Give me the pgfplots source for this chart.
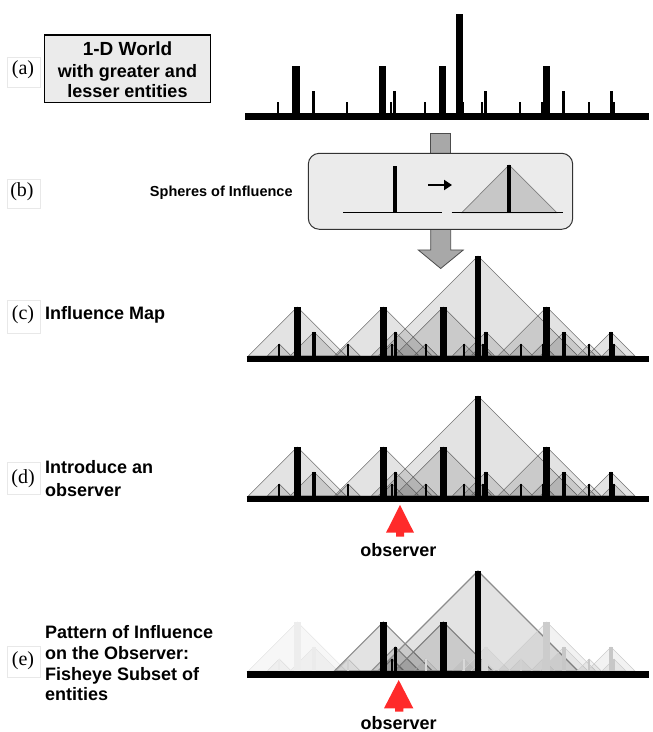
\documentclass[border=0pt]{standalone}
\usepackage{pgfplots}
\pgfplotsset{compat=1.18}
\usepackage{pgfplotstable}
\usepackage{fontspec}
\setmainfont{Liberation Sans}
\newfontfamily\seriffont{Liberation Serif}
\usetikzlibrary{arrows.meta}
\definecolor{obsred}{HTML}{FF2A2A}
\definecolor{boxgray}{HTML}{EBEBEB}
\definecolor{arrgray}{HTML}{A8A8A8}

% panel (a): position, height, bar width
\pgfplotstableread{
px ph pw
278.3 11 2
296 47 7.3
313 22 3
347 11 2
382.3 47 7.3
390.7 11 2
394.7 22 3
425 11 2
442.7 47 7.3
459.7 99 7
463 11 2
481.7 11 2
485.7 22 3
520 11 2
541.7 11 2
546.7 47 7.3
563.3 22 3
589.3 11 2
611 22 3
614 11 2
}\tabA

% panels (c) and (d)
\pgfplotstableread{
px ph pw
279.3 12 2
297.3 49 7
314 24 3.3
348.3 12 2
383.3 49 7
392 12 2
395.3 24 3.3
425.7 12 2
443.3 49 7
464.3 12 2
478 100 6.5
482.7 12 2
486 24 3.3
521 12 2
542.7 12 2
546.7 49 7
564 24 3.3
589.3 12 2
611 24 3.3
614 12 2
}\tabC

% panel (e): with bar shade, fill opacity, line shade, line width
\pgfplotstableread{
px ph pw bc fo lc lw
279.3 12 2 8 0.03 10 0.6
297.3 49 7 7 0.03 10 0.6
314 24 3.3 8 0.03 10 0.6
348.3 12 2 18 0.04 20 0.6
383.3 49 7 100 0.11 45 1.1
392 12 2 100 0.11 45 1.1
395.3 24 3.3 100 0.11 45 1.1
425.7 12 2 15 0.04 15 0.6
443.3 49 7 100 0.11 45 1.1
464.3 12 2 15 0.04 15 0.6
478 100 6.5 100 0.11 45 1.1
482.7 12 2 15 0.04 15 0.6
486 24 3.3 15 0.04 18 0.6
521 12 2 18 0.04 18 0.6
542.7 12 2 20 0.04 18 0.6
546.7 49 7 20 0.05 20 0.6
564 24 3.3 22 0.05 20 0.6
589.3 12 2 22 0.05 20 0.6
611 24 3.3 22 0.05 20 0.6
614 12 2 22 0.05 20 0.6
}\tabE

\newcommand\drawbars[2]{%
  \pgfplotstablegetrowsof{#1}%
  \pgfmathtruncatemacro\nrows{\pgfplotsretval-1}%
  \pgfplotsforeachungrouped \i in {0,...,\nrows}{%
    \pgfplotstablegetelem{\i}{px}\of#1\let\X\pgfplotsretval
    \pgfplotstablegetelem{\i}{ph}\of#1\let\H\pgfplotsretval
    \pgfplotstablegetelem{\i}{pw}\of#1\let\W\pgfplotsretval
    \pgfmathsetmacro\YT{#2+\H}%
    \edef\tmp{\noexpand\addplot[black, line width=\W pt] coordinates {(\X,#2) (\X,\YT)};}\tmp
  }}

\newcommand\drawspheres[2]{%
  \pgfplotstablegetrowsof{#1}%
  \pgfmathtruncatemacro\nrows{\pgfplotsretval-1}%
  \pgfplotsforeachungrouped \i in {0,...,\nrows}{%
    \pgfplotstablegetelem{\i}{px}\of#1\let\X\pgfplotsretval
    \pgfplotstablegetelem{\i}{ph}\of#1\let\H\pgfplotsretval
    \pgfmathsetmacro\XL{\X-\H}\pgfmathsetmacro\XR{\X+\H}\pgfmathsetmacro\YT{#2+\H}%
    \edef\tmp{\noexpand\addplot[fill=black, fill opacity=0.11, draw=black!55, line width=0.6pt] coordinates {(\XL,#2) (\X,\YT) (\XR,#2)} -- cycle;}\tmp
  }}

\newcommand\drawfaded[2]{%
  \pgfplotstablegetrowsof{#1}%
  \pgfmathtruncatemacro\nrows{\pgfplotsretval-1}%
  \pgfplotsforeachungrouped \i in {0,...,\nrows}{%
    \pgfplotstablegetelem{\i}{px}\of#1\let\X\pgfplotsretval
    \pgfplotstablegetelem{\i}{ph}\of#1\let\H\pgfplotsretval
    \pgfplotstablegetelem{\i}{fo}\of#1\let\FO\pgfplotsretval
    \pgfplotstablegetelem{\i}{lc}\of#1\let\LC\pgfplotsretval
    \pgfplotstablegetelem{\i}{lw}\of#1\let\LW\pgfplotsretval
    \pgfmathsetmacro\XL{\X-\H}\pgfmathsetmacro\XR{\X+\H}\pgfmathsetmacro\YT{#2+\H}%
    \edef\tmp{\noexpand\addplot[fill=black, fill opacity=\FO, draw=black!\LC, line width=\LW pt] coordinates {(\XL,#2) (\X,\YT) (\XR,#2)} -- cycle;}\tmp
  }%
  \pgfplotsforeachungrouped \i in {0,...,\nrows}{%
    \pgfplotstablegetelem{\i}{px}\of#1\let\X\pgfplotsretval
    \pgfplotstablegetelem{\i}{ph}\of#1\let\H\pgfplotsretval
    \pgfplotstablegetelem{\i}{pw}\of#1\let\W\pgfplotsretval
    \pgfplotstablegetelem{\i}{bc}\of#1\let\BC\pgfplotsretval
    \pgfmathsetmacro\YT{#2+\H}%
    \edef\tmp{\noexpand\addplot[black!\BC, line width=\W pt] coordinates {(\X,#2) (\X,\YT)};}\tmp
  }}

\tikzset{lab/.style={font=\bfseries\fontsize{18}{21}\selectfont, anchor=base west, inner sep=0pt},
  plab/.style={font=\seriffont\fontsize{20}{22}\selectfont, anchor=base, inner sep=0pt},
  faint/.style={draw=black!9, line width=0.6pt}}

\begin{document}
\begin{tikzpicture}
\begin{axis}[x=1pt, y=1pt, xmin=0, xmax=649, ymin=0, ymax=732,
  scale only axis, hide axis, clip=false]
\addplot[draw=none] coordinates {(0,0) (649,732)};

% ---------- panel (a)
\draw[faint] (axis cs:7,675) rectangle (axis cs:40,645);
\node[plab] at (axis cs:23,657) {(a)};
\draw[fill=boxgray, draw=black, line width=1.3pt] (axis cs:44.3,697) rectangle (axis cs:210.7,629.7);
\node[font=\bfseries\fontsize{19}{21}\selectfont, anchor=base, inner sep=0pt] at (axis cs:127.5,676.3) {1-D World};
\node[font=\bfseries\fontsize{18}{21}\selectfont, anchor=base, inner sep=0pt] at (axis cs:127.5,654.7) {with greater and};
\node[font=\bfseries\fontsize{18}{21}\selectfont, anchor=base, inner sep=0pt] at (axis cs:127.5,634.7) {lesser entities};
\drawbars{\tabA}{618.7}
\addplot[black, line width=7pt] coordinates {(245,615.2) (649,615.2)};

% ---------- panel (b)
\draw[faint] (axis cs:7,553) rectangle (axis cs:40,524);
\node[plab] at (axis cs:22,535.3) {(b)};
\node[font=\bfseries\fontsize{14.5}{17}\selectfont, anchor=base, inner sep=0pt] at (axis cs:221.3,535.3) {Spheres of Influence};
\addplot[fill=arrgray, draw=black!70, line width=0.8pt] coordinates {(430.7,575) (430.7,598.7) (450.7,598.7) (450.7,575)};
\addplot[fill=arrgray, draw=black!70, line width=0.8pt] coordinates {(430.7,506) (430.7,482) (418.3,482) (440.7,463.5) (463.3,482) (450.7,482) (450.7,506)};
\draw[fill=boxgray, draw=black!80, line width=1pt, rounded corners=11pt] (axis cs:308.3,578.7) rectangle (axis cs:572.7,502.7);
\addplot[black, line width=1.3pt] coordinates {(343.3,519.3) (441.7,519.3)};
\addplot[black, line width=4pt] coordinates {(395,519.3) (395,566.3)};
\draw[-{Triangle[length=8pt,width=10pt]}, line width=2.4pt] (axis cs:428,547) -- (axis cs:452,547);
\addplot[fill=black!22, draw=black!50, line width=0.7pt] coordinates {(461.7,519.3) (509,567) (556.7,519.3)} -- cycle;
\addplot[black, line width=1.3pt] coordinates {(451.7,519.3) (563.3,519.3)};
\addplot[black, line width=4pt] coordinates {(509,519.3) (509,567)};

% ---------- panel (c)
\draw[faint] (axis cs:7,432) rectangle (axis cs:40,399);
\node[plab] at (axis cs:23,412) {(c)};
\node[lab] at (axis cs:45,412.7) {Influence Map};
\drawspheres{\tabC}{376}
\drawbars{\tabC}{376}
\addplot[black, line width=6pt] coordinates {(246.7,373) (649,373)};

% ---------- panel (d)
\draw[faint] (axis cs:7,270) rectangle (axis cs:40,238);
\node[plab] at (axis cs:23,248) {(d)};
\node[lab] at (axis cs:45,258.5) {Introduce an};
\node[lab] at (axis cs:45,235.5) {observer};
\drawspheres{\tabC}{236}
\drawbars{\tabC}{236}
\addplot[black, line width=6.5pt] coordinates {(246.7,232.75) (649,232.75)};
\addplot[fill=obsred, draw=none] coordinates {(386,199.3) (400,227) (414,199.3) (404,199.3) (404,195.3) (396,195.3) (396,199.3)} -- cycle;
\node[font=\bfseries\fontsize{18}{21}\selectfont, anchor=base, inner sep=0pt] at (axis cs:398.3,175.3) {observer};

% ---------- panel (e)
\draw[faint] (axis cs:7,86) rectangle (axis cs:40,55);
\node[plab] at (axis cs:23,66) {(e)};
\node[lab] at (axis cs:45,93.3) {Pattern of Influence};
\node[lab] at (axis cs:45,72.7) {on the Observer:};
\node[lab] at (axis cs:45,51) {Fisheye Subset of};
\node[lab] at (axis cs:45,31) {entities};
\drawfaded{\tabE}{61}
\addplot[black, line width=7pt] coordinates {(246.7,57.5) (649,57.5)};
\addplot[fill=obsred, draw=none] coordinates {(384,23.7) (398.7,52) (413.3,23.7) (403.3,23.7) (403.3,20.3) (395,20.3) (395,23.7)} -- cycle;
\node[font=\bfseries\fontsize{18}{21}\selectfont, anchor=base, inner sep=0pt] at (axis cs:398.7,2.5) {observer};
\end{axis}
\end{tikzpicture}
\end{document}
